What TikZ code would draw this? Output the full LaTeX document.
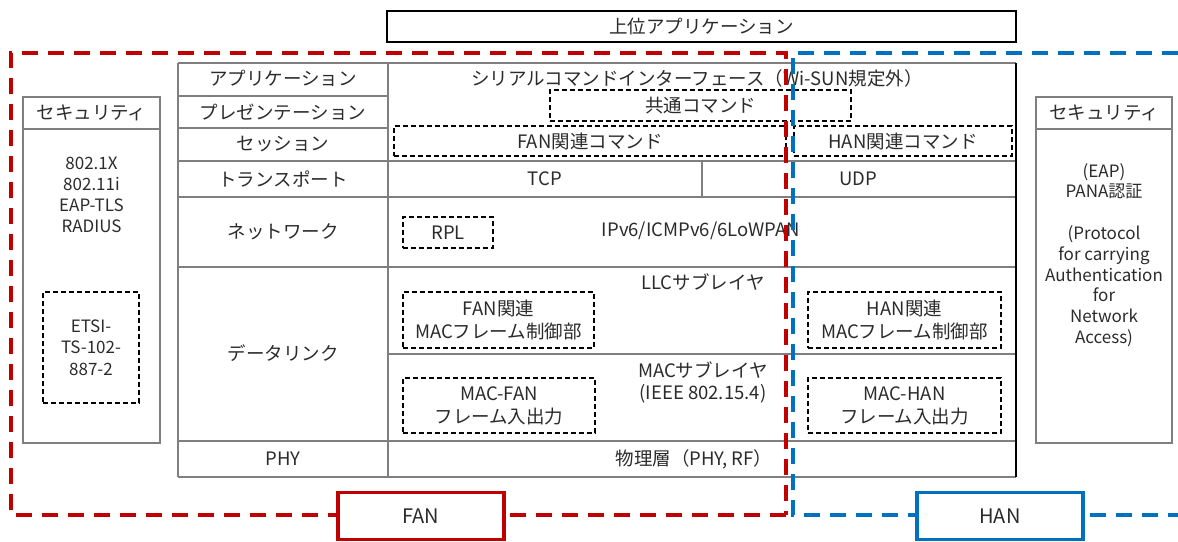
\documentclass[tikz,border=0pt]{standalone}
\usepackage{fontspec}
\setmainfont{Noto Sans CJK JP}
\definecolor{fanred}{HTML}{C00000}
\definecolor{hanblue}{HTML}{0070C0}
\definecolor{gridgray}{HTML}{7F7F7F}
\definecolor{txt}{HTML}{2B2B2B}
\tikzset{
  grid/.style={draw=gridgray, line width=1.2pt},
  lbl/.style={font=\fontsize{18.5}{21}\selectfont, text=txt, inner sep=0pt, align=center},
  sml/.style={font=\fontsize{17}{20.8}\selectfont, text=txt, inner sep=0pt, align=center},
  dbox/.style={draw=black, line width=1.3pt, dash pattern=on 5pt off 3pt, inner sep=0pt,
     font=\fontsize{18.5}{23}\selectfont, text=txt, align=center},
  topbox/.style={draw=black, line width=1.8pt, inner sep=0pt, font=\fontsize{18.5}{21}\selectfont, text=txt},
  fanline/.style={draw=fanred, line width=3.5pt, dash pattern=on 16pt off 10pt},
  hanline/.style={draw=hanblue, line width=3.5pt, dash pattern=on 16pt off 10pt},
  tagbox/.style={draw=#1, fill=white, line width=3.5pt, inner sep=0pt, minimum width=166pt,
     minimum height=47pt, font=\fontsize{20}{22}\selectfont, text=txt},
}
\begin{document}
\begin{tikzpicture}[x=1pt, y=-1pt]
\useasboundingbox (0,0) rectangle (1178,541);

% top box
\node[topbox, minimum width=629pt, minimum height=31pt] (upper) at (701.5,26.5) {上位アプリケーション};

% main table
\draw[grid] (178,63) -- (1016,63);
\draw[grid] (178,63) -- (178,477);
\draw[grid] (388,63) -- (388,477);
\draw[grid] (178,477) -- (1016,477);
\draw[grid] (178,96) -- (388,96);
\draw[grid] (178,128) -- (388,128);
\draw[grid] (178,161) -- (1016,161);
\draw[grid] (178,197) -- (1016,197);
\draw[grid] (178,267) -- (1016,267);
\draw[grid] (388,354) -- (1016,354);
\draw[grid] (178,441) -- (1016,441);
\draw[grid] (702,161) -- (702,197);
\draw[draw=black, line width=1.2pt] (1016,63) -- (1016,477);

% left column labels
\node[lbl] (app) at (283,78) {アプリケーション};
\node[lbl] (pres) at (283,112) {プレゼンテーション};
\node[lbl] (sess) at (283,144) {セッション};
\node[lbl] (trans) at (283,179) {トランスポート};
\node[lbl] (net) at (283,232) {ネットワーク};
\node[lbl] (dl) at (283,353) {データリンク};
\node[lbl] (phy) at (283,459) {PHY};

% right column
\node[lbl] (serial) at (697,78) {シリアルコマンドインターフェース（Wi-SUN規定外）};
\node[dbox, minimum width=301pt, minimum height=31pt] (common) at (700.5,105.5) {共通コマンド};
\node[dbox, minimum width=392pt, minimum height=30pt] (fancmd) at (590,141) {FAN関連コマンド};
\node[dbox, minimum width=218pt, minimum height=30pt] (hancmd) at (903,141) {HAN関連コマンド};
\node[lbl] (tcp) at (545,179) {TCP};
\node[lbl] (udp) at (858,179) {UDP};
\node[dbox, minimum width=90pt, minimum height=31pt] (rpl) at (448,232.5) {RPL};
\node[lbl] (ipv6) at (701,231) {IPv6/ICMPv6/6LoWPAN};
\node[lbl] (llc) at (703,282) {LLCサブレイヤ};
\node[dbox, minimum width=191pt, minimum height=56pt] (fanmac) at (498.5,320) {FAN関連\\MACフレーム制御部};
\node[dbox, minimum width=193pt, minimum height=56pt] (hanmac) at (904.5,320) {HAN関連\\MACフレーム制御部};
\node[lbl, font=\fontsize{18.5}{22}\selectfont] (macsub) at (703,382) {MACサブレイヤ\\(IEEE 802.15.4)};
\node[dbox, minimum width=192pt, minimum height=55pt] (macfan) at (499,405.5) {MAC-FAN\\フレーム入出力};
\node[dbox, minimum width=193pt, minimum height=55pt] (machan) at (904.5,405.5) {MAC-HAN\\フレーム入出力};
\node[lbl] (rf) at (694,459) {物理層（PHY, RF）};

% left security
\draw[grid] (23,97) rectangle (160,443);
\draw[grid] (23,129) -- (160,129);
\node[lbl] (secl) at (91.5,113) {セキュリティ};
\node[sml] (secltxt) at (91.5,195) {802.1X\\802.11i\\EAP-TLS\\RADIUS};
\node[dbox, minimum width=96pt, minimum height=111pt, font=\fontsize{17}{21.5}\selectfont] (etsi) at (91,347.5) {ETSI-\\TS-102-\\887-2};

% right security
\draw[grid] (1036,97) rectangle (1172,443);
\draw[grid] (1036,129) -- (1172,129);
\node[lbl] (secr) at (1104,113) {セキュリティ};
\node[sml] (secrtxt) at (1104,255) {(EAP)\\PANA認証\\[20.8pt](Protocol\\for carrying\\Authentication\\for\\Network\\Access)};

% FAN / HAN regions
\draw[fanline] (786,515) -- (11,515) -- (11,53) -- (786,53) -- cycle;
\draw[hanline] (1178,53) -- (793,53) -- (793,515) -- (1178,515);
\node[tagbox=fanred] (fan) at (421,516) {FAN};
\node[tagbox=hanblue] (han) at (1000,516) {HAN};
\end{tikzpicture}
\end{document}
